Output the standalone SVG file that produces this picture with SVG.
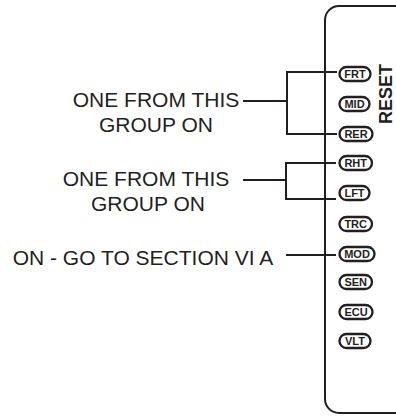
<svg xmlns="http://www.w3.org/2000/svg" width="396" height="417" viewBox="0 0 396 417">
<style>
.lbl{font-family:"Liberation Sans",Arial,sans-serif;font-size:21px;fill:#231f20;text-anchor:middle}
.pill rect{fill:#fff;stroke:#231f20;stroke-width:2.3}
.pill text{font-family:"Liberation Sans",Arial,sans-serif;font-size:11px;font-weight:bold;fill:#231f20;text-anchor:middle}
.ln{fill:none;stroke:#231f20;stroke-width:2}
</style>
<rect width="396" height="417" fill="#fff"/>
<g id="panel">
<path class="ln" d="M396 6 H339 A14 14 0 0 0 325 20 V399 A14 14 0 0 0 339 413 H396"/>
<text x="392" y="94" transform="rotate(-90 392 94)" style="font-family:'Liberation Sans',Arial,sans-serif;font-size:18px;font-weight:bold;fill:#231f20;text-anchor:middle">RESET</text>
</g>
<g id="connectors">
<path class="ln" d="M243 101 H287 M337 72 H287 V134 H337"/>
<path class="ln" d="M243 180 H286 M336 163 H286 V199 H336"/>
<path class="ln" d="M286 255 H336"/>
</g>
<g id="label1"><text class="lbl" x="156" y="107">ONE FROM THIS</text><text class="lbl" x="156" y="132">GROUP ON</text></g>
<g id="label2"><text class="lbl" x="146" y="186">ONE FROM THIS</text><text class="lbl" x="148" y="211">GROUP ON</text></g>
<g id="label3"><text class="lbl" x="143" y="265">ON - GO TO SECTION VI A</text></g>
<g id="FRT" class="pill"><rect x="339.5" y="67" width="31" height="14" rx="7"/><text x="355" y="78">FRT</text></g>
<g id="MID" class="pill"><rect x="339.5" y="97" width="30" height="14" rx="7"/><text x="354.5" y="108">MID</text></g>
<g id="RER" class="pill"><rect x="339.5" y="127" width="33" height="14" rx="7"/><text x="356" y="138">RER</text></g>
<g id="RHT" class="pill"><rect x="339.5" y="156" width="32.5" height="14" rx="7"/><text x="355.7" y="167">RHT</text></g>
<g id="LFT" class="pill"><rect x="339.5" y="186" width="30" height="14" rx="7"/><text x="354.5" y="197">LFT</text></g>
<g id="TRC" class="pill"><rect x="339.5" y="217" width="32.5" height="14" rx="7"/><text x="355.7" y="228">TRC</text></g>
<g id="MOD" class="pill"><rect x="339.5" y="247" width="35" height="14" rx="7"/><text x="357" y="258">MOD</text></g>
<g id="SEN" class="pill"><rect x="339.5" y="275" width="32.5" height="14" rx="7"/><text x="355.7" y="286">SEN</text></g>
<g id="ECU" class="pill"><rect x="339.5" y="305" width="33" height="14" rx="7"/><text x="356" y="316">ECU</text></g>
<g id="VLT" class="pill"><rect x="339.5" y="334" width="31" height="14" rx="7"/><text x="355" y="345">VLT</text></g>
</svg>
